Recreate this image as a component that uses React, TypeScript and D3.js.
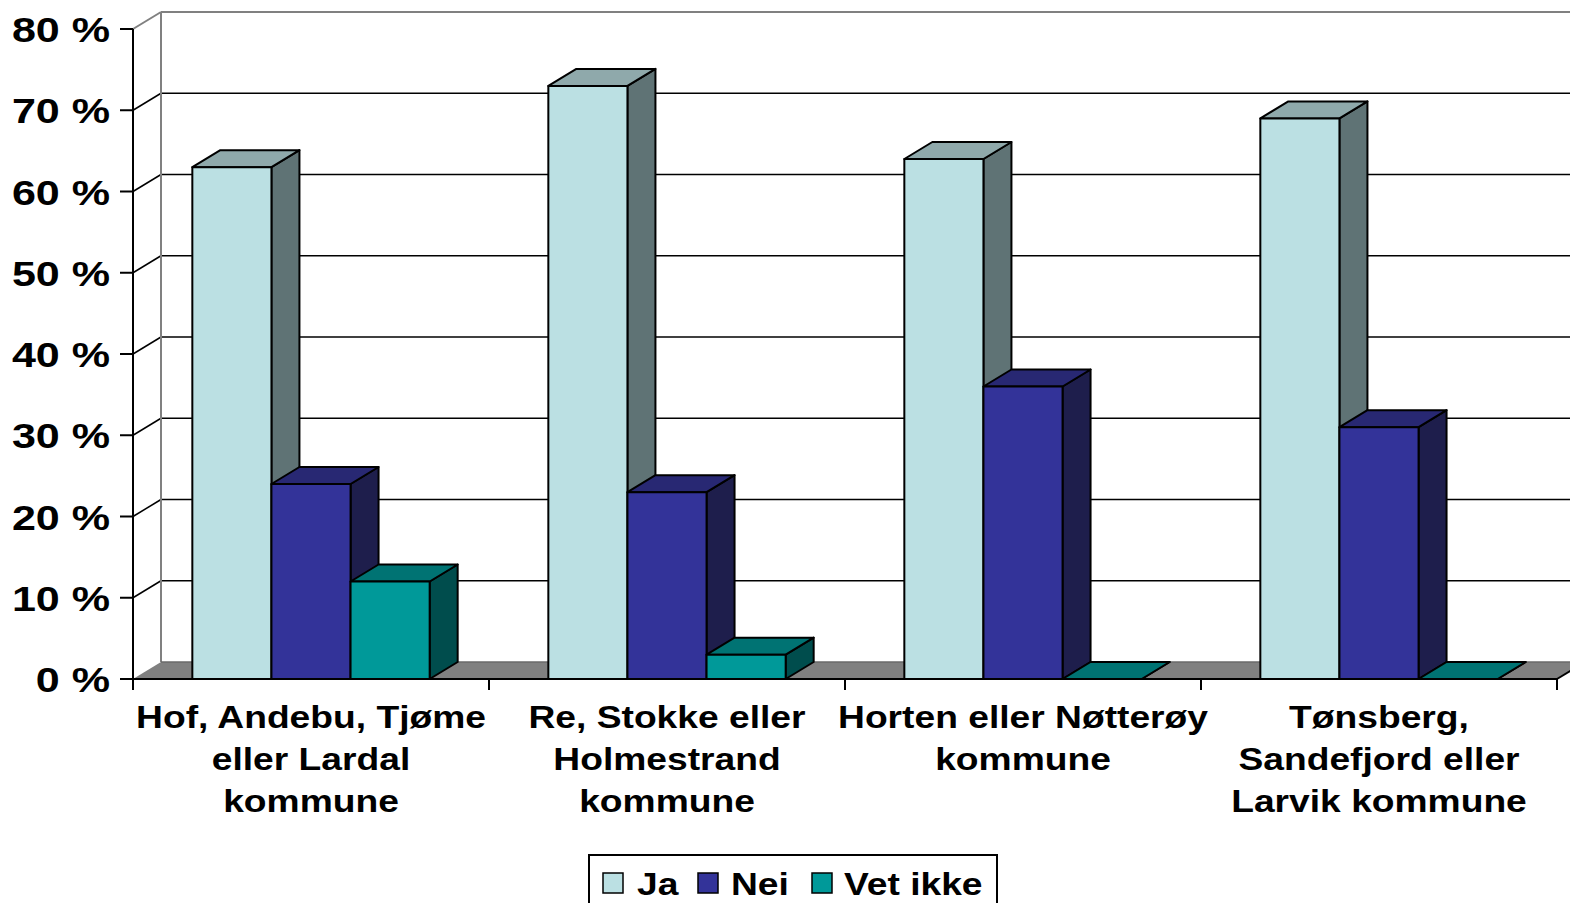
import React from "react";
import * as d3 from "d3";

const categories: string[][] = [
  ["Hof, Andebu, Tjøme", "eller Lardal", "kommune"],
  ["Re, Stokke eller", "Holmestrand", "kommune"],
  ["Horten eller Nøtterøy", "kommune"],
  ["Tønsberg,", "Sandefjord eller", "Larvik kommune"],
];
const seriesNames = ["Ja", "Nei", "Vet ikke"];
const jaValues = [63, 73, 64, 69];
const neiValues = [24, 23, 36, 31];
const vetIkkeValues = [12, 3, 0, 0];
const yTicks = [0, 10, 20, 30, 40, 50, 60, 70, 80];

const seriesValues = [jaValues, neiValues, vetIkkeValues];
const seriesColors = [
  { front: "#BBE0E3", top: "#8FA9AB", side: "#5F7375" },
  { front: "#333399", top: "#282873", side: "#1E1E4C" },
  { front: "#009999", top: "#007373", side: "#004D4D" },
];

const W = 1570;
const H = 903;
const X0 = 133;
const X1 = 1557;
const DX = 28;
const DY = -17;
const FONT = "'Liberation Sans', Arial, Helvetica, sans-serif";
const SX = 1.2;

export default function App() {
  const y = d3.scaleLinear().domain([0, 80]).range([679, 29]);
  const xCat = d3
    .scaleBand<number>()
    .domain(d3.range(categories.length))
    .range([X0, X1]);
  const bw = xCat.bandwidth();
  const barW = bw / 4.5;
  const xSer = d3
    .scaleBand<number>()
    .domain(d3.range(seriesNames.length))
    .range([(bw - 3 * barW) / 2, (bw + 3 * barW) / 2]);

  const base = y(0);
  const top = y(80);
  const gridVals = yTicks.filter((t) => t > 0 && t < 80);

  const bars: React.ReactNode[] = [];
  categories.forEach((_, ci) => {
    seriesNames.forEach((_, si) => {
      const v = seriesValues[si][ci];
      const x0 = (xCat(ci) as number) + (xSer(si) as number);
      const x1 = x0 + barW;
      const yt = y(v);
      const c = seriesColors[si];
      const pts = (arr: number[][]) => arr.map((p) => p.join(",")).join(" ");
      bars.push(
        <g key={`b-${ci}-${si}`} stroke="#000" strokeWidth={2} strokeLinejoin="round">
          <polygon
            fill={c.side}
            points={pts([[x1, yt], [x1 + DX, yt + DY], [x1 + DX, base + DY], [x1, base]])}
          />
          <polygon
            fill={c.top}
            points={pts([[x0, yt], [x0 + DX, yt + DY], [x1 + DX, yt + DY], [x1, yt]])}
          />
          <rect x={x0} y={yt} width={barW} height={base - yt} fill={c.front} />
        </g>
      );
    });
  });

  const legendX = 589;
  const legendY = 855;
  const legendItems = [
    { sw: 603, tx: 637 },
    { sw: 698, tx: 731 },
    { sw: 812, tx: 844 },
  ];

  return (
    <svg
      width={W}
      height={H}
      style={{ position: "absolute", left: 0, top: 0, background: "#fff" }}
      fontFamily={FONT}
    >
      {/* back wall gridlines */}
      {gridVals.map((t) => (
        <g key={`g-${t}`} stroke="#000" strokeWidth={1.5}>
          <line x1={X0} y1={y(t)} x2={X0 + DX} y2={y(t) + DY} />
          <line x1={X0 + DX} y1={y(t) + DY} x2={X1 + DX} y2={y(t) + DY} />
        </g>
      ))}
      {/* wall edges */}
      <g stroke="#808080" strokeWidth={2} fill="none">
        <line x1={X0 + DX} y1={top + DY} x2={X0 + DX} y2={base + DY} />
        <line x1={X0} y1={top} x2={X0 + DX} y2={top + DY} />
        <line x1={X0 + DX} y1={top + DY} x2={X1 + DX + 10} y2={top + DY} />
      </g>
      {/* floor */}
      <polygon
        fill="#808080"
        points={`${X0},${base} ${X0 + DX},${base + DY} ${X1 + DX},${base + DY} ${X1},${base}`}
      />
      <line x1={X0 + DX} y1={base + DY} x2={X1 + DX} y2={base + DY} stroke="#6a6a6a" strokeWidth={1.5} />
      <line x1={X1} y1={base} x2={X1 + DX} y2={base + DY} stroke="#000" strokeWidth={2} />

      {bars}

      {/* axes */}
      <g stroke="#000" strokeWidth={2}>
        <line x1={X0} y1={top} x2={X0} y2={base + 11} />
        <line x1={X0} y1={base} x2={X1} y2={base} />
        {yTicks.map((t) => (
          <line key={`yt-${t}`} x1={X0 - 13} y1={y(t)} x2={X0} y2={y(t)} />
        ))}
        {d3.range(1, categories.length + 1).map((i) => {
          const xx = X0 + i * bw;
          return <line key={`xt-${i}`} x1={xx} y1={base} x2={xx} y2={base + 11} />;
        })}
      </g>
      {yTicks.map((t) => (
        <text
          key={`yl-${t}`}
          transform={`translate(110,${y(t) + 13}) scale(1.23,1)`}
          textAnchor="end"
          fontSize={35}
          fontWeight="bold"
          fill="#000"
        >
          {`${t} %`}
        </text>
      ))}
      {categories.map((lines, ci) => {
        const cx = (xCat(ci) as number) + bw / 2;
        return lines.map((ln, li) => (
          <text
            key={`cl-${ci}-${li}`}
            transform={`translate(${cx},${728 + li * 42}) scale(${SX},1)`}
            textAnchor="middle"
            fontSize={31}
            fontWeight="bold"
            fill="#000"
          >
            {ln}
          </text>
        ));
      })}

      {/* legend */}
      <rect x={legendX} y={legendY} width={408} height={60} fill="#fff" stroke="#000" strokeWidth={2} />
      {seriesNames.map((name, si) => (
        <g key={`lg-${si}`}>
          <rect
            x={legendItems[si].sw}
            y={873}
            width={20}
            height={20}
            fill={seriesColors[si].front}
            stroke="#000"
            strokeWidth={1.5}
          />
          <text
            transform={`translate(${legendItems[si].tx},895) scale(${SX},1)`}
            fontSize={31}
            fontWeight="bold"
            fill="#000"
          >
            {name}
          </text>
        </g>
      ))}
    </svg>
  );
}
